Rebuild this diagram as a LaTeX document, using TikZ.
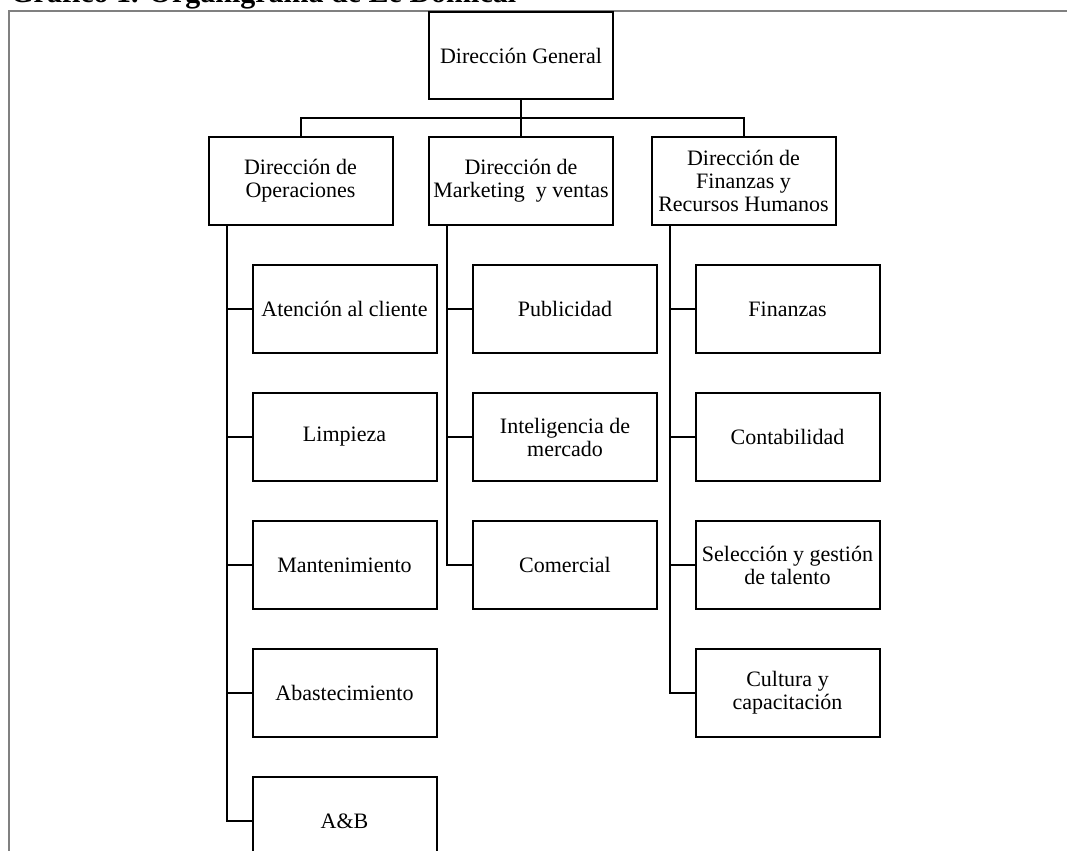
\documentclass[tikz,border=0pt]{standalone}
\usepackage{fontspec}
\setmainfont{Liberation Serif}
\usetikzlibrary{positioning}
\definecolor{framegray}{RGB}{128,128,128}
\tikzset{box/.style = {draw, line width=1pt, align=center, inner sep=2pt,
                       minimum width=92pt, minimum height=44pt,
                       font=\fontsize{11}{11.5}\selectfont},
         link/.style = {line width=1pt}}

\begin{document}
\begin{tikzpicture}[x=0.5pt, y=-0.5pt]
    \useasboundingbox (0,0) rectangle (1067,851);
    \node[anchor=base west, inner sep=0pt, font=\bfseries\fontsize{15}{18}\selectfont]
        (title) at (10,3) {Gráfico 1. Organigrama de Le Domical};
    \draw[framegray, line width=1pt] (9,851) |- (1067,11);

    \node[box, minimum height=43.5pt] (gen) at (521,55.5) {Dirección General};
    \node[box] (ops) at (300.5,181) {Dirección de\\Operaciones};
    \node[box] (mkt) at (521,181)   {Dirección de\\Marketing~ y ventas};
    \node[box] (fin) at (743.5,181) {Dirección de\\Finanzas y\\Recursos Humanos};
    \coordinate (bus) at (521,118);

    \node[box] (ops1) [below right=19pt and 22pt of ops.south west] {Atención al cliente};
    \node[box] (mkt1) [below right=19pt and 22pt of mkt.south west] {Publicidad};
    \node[box] (fin1) [below right=19pt and 22pt of fin.south west] {Finanzas};

    \foreach \Name/\Label [remember=\Name as \lastName (initially ops1)] in {%
        ops2/Limpieza,
        ops3/Mantenimiento,
        ops4/Abastecimiento,
        ops5/A\&B%
    }
    \node[box] (\Name) [below=19pt of \lastName] {\Label};

    \foreach \Name/\Label [remember=\Name as \lastName (initially mkt1)] in {%
        mkt2/{Inteligencia de\\mercado},
        mkt3/Comercial%
    }
    \node[box] (\Name) [below=19pt of \lastName] {\Label};

    \foreach \Name/\Label [remember=\Name as \lastName (initially fin1)] in {%
        fin2/Contabilidad,
        fin3/{Selección y gestión\\de talento},
        fin4/{Cultura y\\capacitación}%
    }
    \node[box] (\Name) [below=19pt of \lastName] {\Label};

    \draw[link] (gen) -- (mkt);
    \draw[link] (ops.north) |- (bus) -| (fin.north);

    \foreach \Head/\Last in {ops/5, mkt/3, fin/4}
        \foreach \i in {1,...,\Last}
            \draw[link] ([xshift=9.5pt]\Head.south west) |- (\Head\i.west);
\end{tikzpicture}
\end{document}
